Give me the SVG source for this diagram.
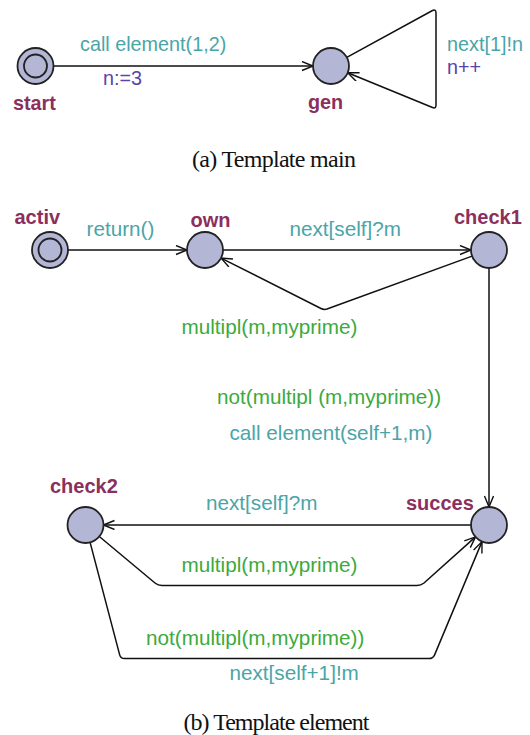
<svg xmlns="http://www.w3.org/2000/svg" width="530" height="735" viewBox="0 0 530 735">
<style>
.node{fill:#b3b6d5;stroke:#222;stroke-width:1.8}
.edge{fill:none;stroke:#111;stroke-width:1.5;stroke-linejoin:round}
.name{font-family:"Liberation Sans",Arial,sans-serif;font-weight:bold;font-size:20px;fill:#8b2f5d}
.sync{font-family:"Liberation Sans",Arial,sans-serif;font-size:20.7px;fill:#4aa5a8}
.guard{font-family:"Liberation Sans",Arial,sans-serif;font-size:20.7px;fill:#3caa3c}
.upd{font-family:"Liberation Sans",Arial,sans-serif;font-size:20.7px;fill:#5a44a8}
.small{font-size:19.8px}
.cap{font-family:"Liberation Serif","Times New Roman",serif;font-size:24px;fill:#111}
</style>
<defs>
<marker id="arr" markerUnits="userSpaceOnUse" markerWidth="14" markerHeight="12" refX="12" refY="5" orient="auto">
<path d="M1,0.5 L12,5 L1,9.5" fill="none" stroke="#111" stroke-width="1.4"/>
</marker>
</defs>
<rect width="530" height="735" fill="#fff"/>

<g id="edges">
<path class="edge" d="M53.5,66 L313,66" marker-end="url(#arr)"/>
<path class="edge" d="M346.8,57.4 L432.5,10.5 Q436,9 436,13 L436,105 Q436,109 432.5,107.5 L347.7,72.8" marker-end="url(#arr)"/>
<path class="edge" d="M68,250 L187,250" marker-end="url(#arr)"/>
<path class="edge" d="M223,250 L471,250" marker-end="url(#arr)"/>
<path class="edge" d="M472.1,256.1 L327,309 Q324,310 321,308.5 L221.1,258.1" marker-end="url(#arr)"/>
<path class="edge" d="M489,268 L489,507" marker-end="url(#arr)"/>
<path class="edge" d="M471,525 L103.5,525" marker-end="url(#arr)"/>
<path class="edge" d="M99.3,536.5 L155,583 Q158,585.4 162,585.4 L417,585.4 Q421,585.4 424,583 L475.5,536.9" marker-end="url(#arr)"/>
<path class="edge" d="M90.1,542.4 L119.6,654.6 Q120.6,658.6 124.6,658.6 L429,658.6 Q433,658.6 434.6,654.9 L482,541.6" marker-end="url(#arr)"/>
</g>

<g id="start">
<circle class="node" cx="35.5" cy="66" r="18"/>
<circle class="node" cx="35.5" cy="66" r="11.5"/>
<text class="name small" x="13" y="110">start</text>
</g>
<g id="gen">
<circle class="node" cx="331" cy="66" r="18"/>
<text class="name small" x="308" y="109">gen</text>
</g>

<g id="labels-a">
<text class="sync small" x="80" y="51">call element(1,2)</text>
<text class="upd small" x="103" y="85">n:=3</text>
<text class="sync small" x="447" y="51">next[1]!n</text>
<text class="upd small" x="447" y="74">n++</text>
</g>
<text class="cap" x="192" y="167" textLength="164">(a) Template main</text>

<g id="activ">
<circle class="node" cx="50" cy="250" r="18"/>
<circle class="node" cx="50" cy="250" r="11.5"/>
<text class="name" x="14.5" y="224">activ</text>
</g>
<g id="own">
<circle class="node" cx="205" cy="250" r="18"/>
<text class="name" x="190.5" y="227">own</text>
</g>
<g id="check1">
<circle class="node" cx="489" cy="250" r="18"/>
<text class="name" x="454" y="224">check1</text>
</g>
<g id="succes">
<circle class="node" cx="489" cy="525" r="18"/>
<text class="name" x="406" y="510">succes</text>
</g>
<g id="check2">
<circle class="node" cx="85.5" cy="525" r="18"/>
<text class="name" x="50" y="493">check2</text>
</g>

<g id="labels-b">
<text class="sync" x="86.5" y="236">return()</text>
<text class="sync" x="289.5" y="236">next[self]?m</text>
<text class="guard" x="181.5" y="334">multipl(m,myprime)</text>
<text class="guard" x="217" y="404">not(multipl (m,myprime))</text>
<text class="sync" x="229.5" y="440">call element(self+1,m)</text>
<text class="sync" x="206" y="510">next[self]?m</text>
<text class="guard" x="181.5" y="572">multipl(m,myprime)</text>
<text class="guard" x="146" y="645">not(multipl(m,myprime))</text>
<text class="sync" x="229.5" y="680">next[self+1]!m</text>
</g>
<text class="cap" x="183.5" y="730" textLength="186">(b) Template element</text>
</svg>
